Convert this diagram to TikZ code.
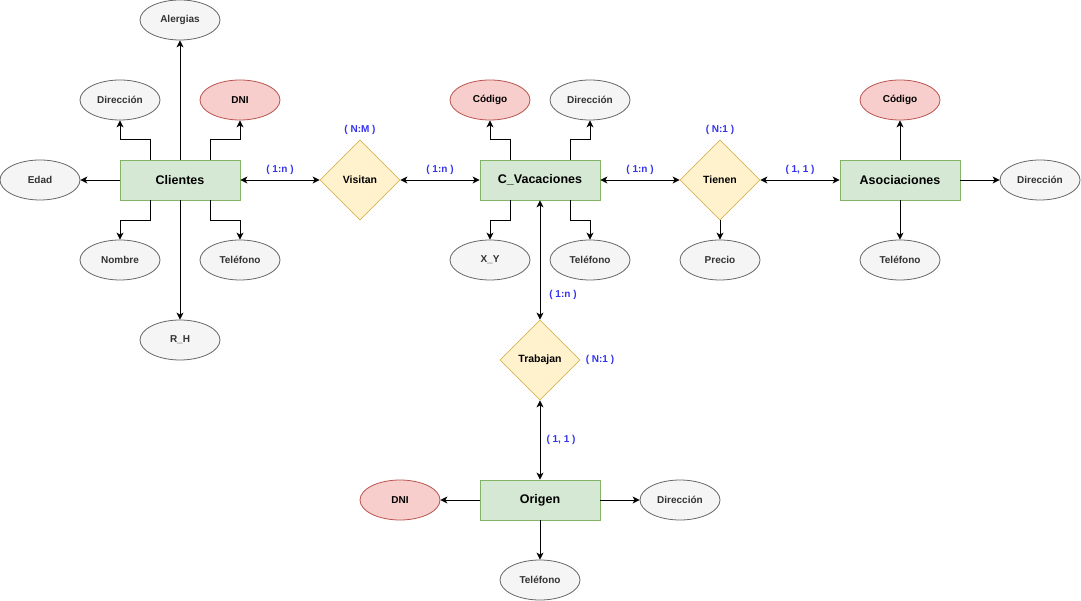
\documentclass[tikz,border=0pt]{standalone}
\usepackage{fontspec}
\setmainfont{Liberation Sans}
\usetikzlibrary{shapes.geometric,arrows.meta}

\definecolor{entfill}{HTML}{D5E8D4}
\definecolor{entline}{HTML}{82B366}
\definecolor{attfill}{HTML}{F5F5F5}
\definecolor{attline}{HTML}{666666}
\definecolor{atttext}{HTML}{333333}
\definecolor{keyfill}{HTML}{F8CECC}
\definecolor{keyline}{HTML}{B85450}
\definecolor{relfill}{HTML}{FFF2CC}
\definecolor{relline}{HTML}{D6B656}
\definecolor{cardblue}{HTML}{3333EE}

\tikzset{
  entity/.style={draw=entline, fill=entfill, line width=0.8pt,
    minimum width=120pt, minimum height=40pt, inner sep=0pt,
    font=\bfseries\fontsize{12.5}{14}\selectfont},
  attr/.style={ellipse, draw=attline, fill=attfill, line width=0.8pt,
    minimum width=80pt, minimum height=40pt, inner sep=0pt, text=atttext,
    font=\bfseries\fontsize{10}{12}\selectfont},
  keyattr/.style={attr, draw=keyline, fill=keyfill, text=black},
  rel/.style={diamond, draw=relline, fill=relfill, line width=0.8pt,
    minimum width=80pt, minimum height=80pt, inner sep=0pt, aspect=1,
    font=\bfseries\fontsize{10.5}{12}\selectfont},
  card/.style={text=cardblue, inner sep=0pt, font=\bfseries\fontsize{10}{12}\selectfont},
  link/.style={-{Stealth[length=7pt,width=7pt,inset=2pt]}, line width=0.9pt},
  both/.style={{Stealth[length=7pt,width=7pt,inset=2pt]}-{Stealth[length=7pt,width=7pt,inset=2pt]}, line width=0.9pt}
}

\begin{document}
\begin{tikzpicture}[x=1pt,y=1pt]
\useasboundingbox (0,0) rectangle (1081,-601);

% Entities
\node[entity] (cli) at (180,-180) {Clientes};
\node[entity] (cvac) at (540,-180) {C\_Vacaciones};
\node[entity] (aso) at (900,-180) {Asociaciones};
\node[entity] (ori) at (540,-500) {Origen};

% Relationships
\node[rel] (vis) at (360,-180) {Visitan};
\node[rel] (tie) at (720,-180) {Tienen};
\node[rel] (tra) at (540,-360) {Trabajan};

% Attributes of Clientes
\node[attr] (cliale) at (180,-20) {Alergias};
\node[attr] (clidir) at (120,-100) {Dirección};
\node[keyattr] (clidni) at (240,-100) {DNI};
\node[attr] (cliedad) at (40,-180) {Edad};
\node[attr] (clinom) at (120,-260) {Nombre};
\node[attr] (clitel) at (240,-260) {Teléfono};
\node[attr] (clirh) at (180,-340) {R\_H};

% Attributes of C_Vacaciones
\node[keyattr] (cvcod) at (490,-100) {Código};
\node[attr] (cvdir) at (590,-100) {Dirección};
\node[attr] (cvxy) at (490,-260) {X\_Y};
\node[attr] (cvtel) at (590,-260) {Teléfono};

% Attribute of Tienen
\node[attr] (tiepre) at (720,-260) {Precio};

% Attributes of Asociaciones
\node[keyattr] (asocod) at (900,-100) {Código};
\node[attr] (asodir) at (1040,-180) {Dirección};
\node[attr] (asotel) at (900,-260) {Teléfono};

% Attributes of Origen
\node[keyattr] (oridni) at (400,-500) {DNI};
\node[attr] (oridir) at (680,-500) {Dirección};
\node[attr] (oritel) at (540,-580) {Teléfono};

% Cardinalities
\node[card] (cvis) at (360,-130) {( N:M )};
\node[card] (ctie) at (720,-130) {( N:1 )};
\node[card] (ctra) at (600,-360) {( N:1 )};
\node[card] (ccv) at (280,-170) {( 1:n )};
\node[card] (cvc) at (440,-170) {( 1:n )};
\node[card] (cct) at (640,-170) {( 1:n )};
\node[card] (cta) at (800,-170) {( 1, 1 )};
\node[card] (cctr) at (563,-295) {( 1:n )};
\node[card] (ctro) at (561,-440) {( 1, 1 )};

% Clientes links
\draw[link] (cli.north) -- (cliale.south);
\draw[link] (cli.south) -- (clirh.north);
\draw[link] (cli.west) -- (cliedad.east);
\draw[link] ([xshift=-30pt]cli.north) -- ++(0,20) -| (clidir.south);
\draw[link] ([xshift=30pt]cli.north) -- ++(0,20) -| (clidni.south);
\draw[link] ([xshift=-30pt]cli.south) -- ++(0,-20) -| (clinom.north);
\draw[link] ([xshift=30pt]cli.south) -- ++(0,-20) -| (clitel.north);

% C_Vacaciones links
\draw[link] ([xshift=-30pt]cvac.north) -- ++(0,20) -| (cvcod.south);
\draw[link] ([xshift=30pt]cvac.north) -- ++(0,20) -| (cvdir.south);
\draw[link] ([xshift=-30pt]cvac.south) -- ++(0,-20) -| (cvxy.north);
\draw[link] ([xshift=30pt]cvac.south) -- ++(0,-20) -| (cvtel.north);

% Tienen and Asociaciones links
\draw[link] (tie.south) -- (tiepre.north);
\draw[link] (aso.north) -- (asocod.south);
\draw[link] (aso.east) -- (asodir.west);
\draw[link] (aso.south) -- (asotel.north);

% Origen links
\draw[link] (ori.west) -- (oridni.east);
\draw[link] (ori.east) -- (oridir.west);
\draw[link] (ori.south) -- (oritel.north);

% Relationship connectors
\draw[both] (cli.east) -- (vis.west);
\draw[both] (vis.east) -- (cvac.west);
\draw[both] (cvac.east) -- (tie.west);
\draw[both] (tie.east) -- (aso.west);
\draw[both] (cvac.south) -- (tra.north);
\draw[both] (tra.south) -- (ori.north);
\end{tikzpicture}
\end{document}
